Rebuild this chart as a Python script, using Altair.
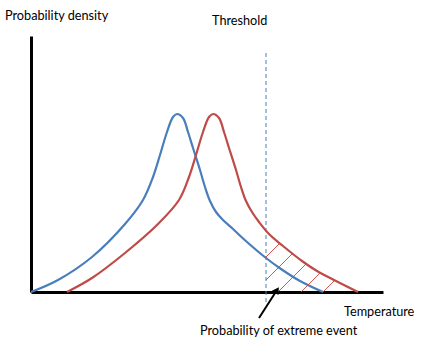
import altair as alt
import numpy as np
import pandas as pd

# Curve values (temperature units / density units)
blue_x = [0, 27, 61, 94, 112, 122, 129, 136, 142, 146, 152, 157, 162, 169, 174, 179, 185, 192, 202, 216, 235, 250, 269, 292]
blue_y = [0, 12, 35, 68, 92, 115, 137, 160, 175, 178, 174, 160, 144, 122, 105, 91, 80, 72, 63, 50, 34, 23, 11, 0]
red_x = [36, 61, 94, 127, 148, 158, 165, 172, 178, 182, 188, 193, 198, 205, 210, 215, 221, 228, 238, 252, 271, 286, 305, 327]
red_y = [0, 14, 39, 68, 92, 115, 137, 160, 175, 178, 174, 160, 144, 122, 105, 91, 80, 70, 58, 46, 31, 21, 11, 0]

threshold_x = [235]
threshold_y = [-10, 242]
hatch_offsets = [200, 223, 247, 270, 292]

arrow_x = [228, 246]
arrow_y = [-26, 2]

label_text = ["Probability density", "Threshold", "Temperature", "Probability of extreme event"]
label_x = [-26, 181, 313, 169]
label_y = [272, 267, -24, -43]

BLUE = "#4a7ebb"
RED = "#be4b48"
HATCH = "#d0403c"
FONT = "Lato"

curves = pd.DataFrame({
    "x": blue_x + red_x,
    "y": blue_y + red_y,
    "series": ["Blue"] * len(blue_x) + ["Red"] * len(red_x),
})

# hatch segments between threshold, axis and the red curve
fx = np.linspace(red_x[0], red_x[-1], 2000)
fy = np.interp(fx, red_x, red_y)
rows = []
for i, k in enumerate(hatch_offsets):
    x0 = max(threshold_x[0], k)
    y0 = x0 - k
    diff = (fx - k) - fy
    mask = (fx >= x0) & (diff >= 0)
    if not mask.any():
        continue
    xe = fx[mask][0]
    rows.append({"id": i, "o": 0, "x": x0, "y": y0})
    rows.append({"id": i, "o": 1, "x": xe, "y": xe - k})
hatch = pd.DataFrame(rows)

xs = alt.Scale(domain=[0, 352], nice=False, zero=False)
ys = alt.Scale(domain=[0, 256], nice=False, zero=False)

axis_style = alt.Axis(domain=True, domainColor="black", domainWidth=3, ticks=False,
                      labels=False, grid=False, title=None)

X = lambda f: alt.X(f, scale=xs, axis=axis_style)
Y = lambda f: alt.Y(f, scale=ys, axis=axis_style)

lines = alt.Chart(curves).mark_line(interpolate="catmull-rom", strokeWidth=2.2).encode(
    x=X("x:Q"),
    y=Y("y:Q"),
    color=alt.Color("series:N", scale=alt.Scale(domain=["Blue", "Red"], range=[BLUE, RED]), legend=None),
    detail="series:N",
)

hatch_layer = alt.Chart(hatch).mark_line(strokeWidth=0.9, stroke=HATCH, color=HATCH).encode(
    x=X("x:Q"),
    y=Y("y:Q"),
    detail="id:N",
    order="o:Q",
)

thr = pd.DataFrame({"x": threshold_x, "y": [threshold_y[0]], "y2": [threshold_y[1]]})
thr_layer = alt.Chart(thr).mark_rule(strokeWidth=1, strokeDash=[4, 3]).encode(
    x=X("x:Q"),
    y=Y("y:Q"),
    y2="y2:Q",
    color=alt.value(BLUE),
)

arr = pd.DataFrame({"x": [arrow_x[0]], "y": [arrow_y[0]], "x2": [arrow_x[1]], "y2": [arrow_y[1]]})
arrow_shaft = alt.Chart(arr).mark_rule(strokeWidth=2).encode(
    x=X("x:Q"),
    y=Y("y:Q"),
    x2="x2:Q",
    y2="y2:Q",
    color=alt.value("black"),
)
head = pd.DataFrame({"x": [arrow_x[1]], "y": [arrow_y[1]]})
arrow_head = alt.Chart(head).mark_point(shape="triangle-up", filled=True,
                                        opacity=1, size=60, angle=33).encode(
    x=X("x:Q"),
    y=Y("y:Q"),
    color=alt.value("black"),
)

labels = pd.DataFrame({"text": label_text, "x": label_x, "y": label_y})
text_layer = alt.Chart(labels).mark_text(align="left", baseline="alphabetic", font=FONT,
                                         fontSize=12.7).encode(
    x=X("x:Q"),
    y=Y("y:Q"),
    text="text:N",
    color=alt.value("black"),
)

chart = alt.layer(thr_layer, lines, hatch_layer, arrow_shaft, arrow_head, text_layer).properties(
    width=352, height=256,
    autosize=alt.AutoSizeParams(type="none"),
    padding={"left": 31, "top": 36, "right": 42, "bottom": 65},
    background="white",
).configure_view(stroke=None)

chart.save("out.html", embed_options={"renderer": "svg", "actions": False})
